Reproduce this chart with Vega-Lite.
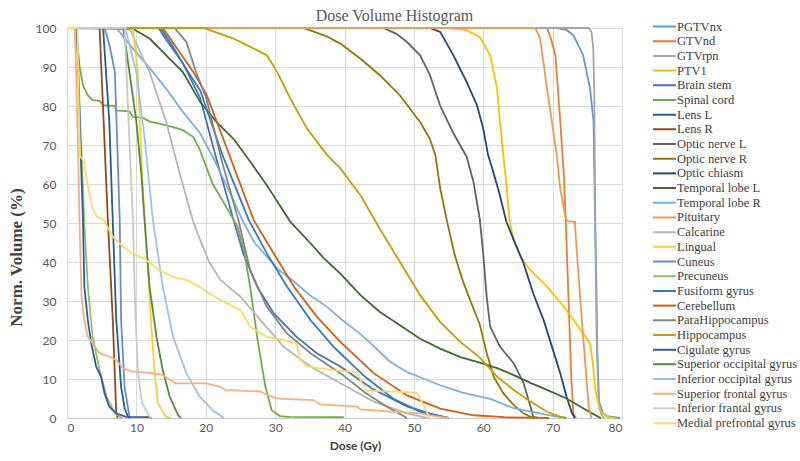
{
"$schema": "https://vega.github.io/schema/vega-lite/v6.json",
"width": 555, "height": 390,
"autosize": {"type": "none"},
"padding": {"left": 67, "top": 28, "right": 178, "bottom": 43},
"background": "white",
"title": {"text": "Dose Volume Histogram", "font": "Liberation Serif", "fontSize": 16, "fontWeight": "normal", "color": "#595959", "anchor": "middle", "dx": 50, "offset": -4},
"config": {"view": {"stroke": null}},
"data": {"values": [
{"s":"PGTVnx","d":0,"v":100},{"s":"PGTVnx","d":70.6,"v":100},{"s":"PGTVnx","d":72,"v":99.5},{"s":"PGTVnx","d":73,"v":98.1},{"s":"PGTVnx","d":74.4,"v":93},{"s":"PGTVnx","d":75.4,"v":84.4},{"s":"PGTVnx","d":75.9,"v":75.9},{"s":"PGTVnx","d":76.1,"v":52},{"s":"PGTVnx","d":76.3,"v":35},{"s":"PGTVnx","d":76.45,"v":17},{"s":"PGTVnx","d":76.7,"v":4},{"s":"PGTVnx","d":77.3,"v":1.2},{"s":"PGTVnx","d":77.8,"v":0.5},{"s":"PGTVnx","d":79.7,"v":0},
{"s":"GTVnd","d":0,"v":100},{"s":"GTVnd","d":69.2,"v":100},{"s":"GTVnd","d":69.8,"v":97},{"s":"GTVnd","d":70.4,"v":93},{"s":"GTVnd","d":71.1,"v":76},{"s":"GTVnd","d":71.6,"v":63},{"s":"GTVnd","d":71.9,"v":50.3},{"s":"GTVnd","d":72.3,"v":30},{"s":"GTVnd","d":72.7,"v":10},{"s":"GTVnd","d":73,"v":1},{"s":"GTVnd","d":73.4,"v":0},
{"s":"GTVrpn","d":0,"v":100},{"s":"GTVrpn","d":75.2,"v":100},{"s":"GTVrpn","d":75.6,"v":99},{"s":"GTVrpn","d":75.85,"v":95},{"s":"GTVrpn","d":76,"v":84},{"s":"GTVrpn","d":76.1,"v":60},{"s":"GTVrpn","d":76.2,"v":40},{"s":"GTVrpn","d":76.35,"v":20},{"s":"GTVrpn","d":76.6,"v":5},{"s":"GTVrpn","d":77,"v":1},{"s":"GTVrpn","d":77.4,"v":0},
{"s":"PTV1","d":0,"v":100},{"s":"PTV1","d":55,"v":100},{"s":"PTV1","d":57.5,"v":99.5},{"s":"PTV1","d":59.5,"v":97.7},{"s":"PTV1","d":61,"v":93},{"s":"PTV1","d":62,"v":84.4},{"s":"PTV1","d":62.4,"v":76},{"s":"PTV1","d":62.9,"v":67.4},{"s":"PTV1","d":63.4,"v":58.8},{"s":"PTV1","d":63.8,"v":50.5},{"s":"PTV1","d":64.4,"v":45.6},{"s":"PTV1","d":65.5,"v":41},{"s":"PTV1","d":66.8,"v":37.9},{"s":"PTV1","d":69.2,"v":33.7},{"s":"PTV1","d":72,"v":27.7},{"s":"PTV1","d":74.4,"v":21.7},{"s":"PTV1","d":75.4,"v":19},{"s":"PTV1","d":75.8,"v":14},{"s":"PTV1","d":76.1,"v":8},{"s":"PTV1","d":76.8,"v":2},{"s":"PTV1","d":77.8,"v":0.3},{"s":"PTV1","d":79,"v":0},
{"s":"Brain stem","d":0,"v":100},{"s":"Brain stem","d":13.2,"v":100},{"s":"Brain stem","d":14.3,"v":97},{"s":"Brain stem","d":16.7,"v":91},{"s":"Brain stem","d":19.2,"v":82},{"s":"Brain stem","d":21.6,"v":66},{"s":"Brain stem","d":24,"v":50.8},{"s":"Brain stem","d":25.4,"v":42.2},{"s":"Brain stem","d":27.4,"v":33.7},{"s":"Brain stem","d":29.8,"v":26.8},{"s":"Brain stem","d":33.1,"v":20.8},{"s":"Brain stem","d":36,"v":16.6},{"s":"Brain stem","d":39.4,"v":13.2},{"s":"Brain stem","d":44,"v":7.5},{"s":"Brain stem","d":49,"v":3},{"s":"Brain stem","d":53,"v":0.8},{"s":"Brain stem","d":55,"v":0},
{"s":"Spinal cord","d":0,"v":100},{"s":"Spinal cord","d":1.3,"v":100},{"s":"Spinal cord","d":1.5,"v":96},{"s":"Spinal cord","d":1.8,"v":90.4},{"s":"Spinal cord","d":2.3,"v":85.3},{"s":"Spinal cord","d":3,"v":82.7},{"s":"Spinal cord","d":3.7,"v":81.5},{"s":"Spinal cord","d":4.7,"v":81.3},{"s":"Spinal cord","d":5.2,"v":80.2},{"s":"Spinal cord","d":6.9,"v":80},{"s":"Spinal cord","d":7.1,"v":78.9},{"s":"Spinal cord","d":9,"v":78.6},{"s":"Spinal cord","d":9.5,"v":77.2},{"s":"Spinal cord","d":10.9,"v":77},{"s":"Spinal cord","d":11.9,"v":76},{"s":"Spinal cord","d":13.3,"v":75.5},{"s":"Spinal cord","d":15.3,"v":74.6},{"s":"Spinal cord","d":16.7,"v":73.8},{"s":"Spinal cord","d":18.2,"v":72.1},{"s":"Spinal cord","d":19.1,"v":69},{"s":"Spinal cord","d":21,"v":60},{"s":"Spinal cord","d":23,"v":54},{"s":"Spinal cord","d":24.6,"v":49},{"s":"Spinal cord","d":25.5,"v":43},{"s":"Spinal cord","d":26.4,"v":33.7},{"s":"Spinal cord","d":27.4,"v":20.8},{"s":"Spinal cord","d":28.6,"v":8},{"s":"Spinal cord","d":29.5,"v":2},{"s":"Spinal cord","d":30.7,"v":0.5},{"s":"Spinal cord","d":32,"v":0.3},{"s":"Spinal cord","d":39.9,"v":0.2},
{"s":"Lens L","d":0,"v":100},{"s":"Lens L","d":5.2,"v":100},{"s":"Lens L","d":6.1,"v":75.9},{"s":"Lens L","d":6.6,"v":50.3},{"s":"Lens L","d":7.1,"v":25.1},{"s":"Lens L","d":7.8,"v":8},{"s":"Lens L","d":8.3,"v":2.5},{"s":"Lens L","d":8.8,"v":0.3},{"s":"Lens L","d":9,"v":0},
{"s":"Lens R","d":0,"v":100},{"s":"Lens R","d":4.7,"v":100},{"s":"Lens R","d":5.9,"v":50.3},{"s":"Lens R","d":6.6,"v":25.1},{"s":"Lens R","d":7.1,"v":1.3},{"s":"Lens R","d":7.3,"v":0},
{"s":"Optic nerve L","d":0,"v":100},{"s":"Optic nerve L","d":45.6,"v":100},{"s":"Optic nerve L","d":47.5,"v":98.5},{"s":"Optic nerve L","d":49,"v":96.4},{"s":"Optic nerve L","d":50.9,"v":93},{"s":"Optic nerve L","d":52.3,"v":88},{"s":"Optic nerve L","d":53.8,"v":80},{"s":"Optic nerve L","d":55.7,"v":73},{"s":"Optic nerve L","d":57.6,"v":67},{"s":"Optic nerve L","d":58.6,"v":60.5},{"s":"Optic nerve L","d":59.5,"v":51},{"s":"Optic nerve L","d":60,"v":42},{"s":"Optic nerve L","d":60.5,"v":31},{"s":"Optic nerve L","d":61,"v":23.4},{"s":"Optic nerve L","d":62.4,"v":18.3},{"s":"Optic nerve L","d":64.4,"v":14},{"s":"Optic nerve L","d":65.8,"v":9},{"s":"Optic nerve L","d":66.8,"v":3},{"s":"Optic nerve L","d":67.2,"v":0.3},{"s":"Optic nerve L","d":68,"v":0},
{"s":"Optic nerve R","d":0,"v":100},{"s":"Optic nerve R","d":34.1,"v":100},{"s":"Optic nerve R","d":37.5,"v":97.8},{"s":"Optic nerve R","d":39.4,"v":96},{"s":"Optic nerve R","d":42.3,"v":92.1},{"s":"Optic nerve R","d":45.1,"v":87.9},{"s":"Optic nerve R","d":48,"v":82.7},{"s":"Optic nerve R","d":50.9,"v":75.9},{"s":"Optic nerve R","d":52.3,"v":71.6},{"s":"Optic nerve R","d":53.1,"v":67.4},{"s":"Optic nerve R","d":53.8,"v":58.8},{"s":"Optic nerve R","d":54.8,"v":50.3},{"s":"Optic nerve R","d":55.9,"v":41.7},{"s":"Optic nerve R","d":57.1,"v":34.9},{"s":"Optic nerve R","d":58.6,"v":28},{"s":"Optic nerve R","d":59.5,"v":24},{"s":"Optic nerve R","d":60.5,"v":16.6},{"s":"Optic nerve R","d":61.5,"v":10.6},{"s":"Optic nerve R","d":62.9,"v":6.3},{"s":"Optic nerve R","d":64.4,"v":3.3},{"s":"Optic nerve R","d":65.8,"v":1.2},{"s":"Optic nerve R","d":66.8,"v":0.3},{"s":"Optic nerve R","d":67.5,"v":0},
{"s":"Optic chiasm","d":0,"v":100},{"s":"Optic chiasm","d":52.3,"v":100},{"s":"Optic chiasm","d":53.8,"v":99},{"s":"Optic chiasm","d":55.7,"v":93},{"s":"Optic chiasm","d":57.6,"v":86.2},{"s":"Optic chiasm","d":59.1,"v":80.2},{"s":"Optic chiasm","d":60,"v":74.2},{"s":"Optic chiasm","d":60.7,"v":67.4},{"s":"Optic chiasm","d":61.3,"v":64},{"s":"Optic chiasm","d":62.4,"v":57.1},{"s":"Optic chiasm","d":63.3,"v":50.5},{"s":"Optic chiasm","d":64.4,"v":45.6},{"s":"Optic chiasm","d":65.8,"v":39.7},{"s":"Optic chiasm","d":67.2,"v":32},{"s":"Optic chiasm","d":68.7,"v":25.1},{"s":"Optic chiasm","d":69.9,"v":18.3},{"s":"Optic chiasm","d":71.1,"v":11.5},{"s":"Optic chiasm","d":72,"v":5.5},{"s":"Optic chiasm","d":72.8,"v":1.2},{"s":"Optic chiasm","d":73.2,"v":0},
{"s":"Temporal lobe L","d":0,"v":100},{"s":"Temporal lobe L","d":9.5,"v":99.8},{"s":"Temporal lobe L","d":11.9,"v":97.3},{"s":"Temporal lobe L","d":14.3,"v":93},{"s":"Temporal lobe L","d":16.7,"v":88.7},{"s":"Temporal lobe L","d":19.2,"v":81},{"s":"Temporal lobe L","d":21.5,"v":76},{"s":"Temporal lobe L","d":24,"v":71.6},{"s":"Temporal lobe L","d":26.5,"v":65.5},{"s":"Temporal lobe L","d":28.8,"v":59.7},{"s":"Temporal lobe L","d":30.5,"v":55},{"s":"Temporal lobe L","d":32.2,"v":50.3},{"s":"Temporal lobe L","d":35,"v":45},{"s":"Temporal lobe L","d":37,"v":41},{"s":"Temporal lobe L","d":39.4,"v":37},{"s":"Temporal lobe L","d":42.3,"v":31.5},{"s":"Temporal lobe L","d":45.1,"v":27.2},{"s":"Temporal lobe L","d":48,"v":23.8},{"s":"Temporal lobe L","d":50.9,"v":20.3},{"s":"Temporal lobe L","d":53.8,"v":17.8},{"s":"Temporal lobe L","d":56.7,"v":15.6},{"s":"Temporal lobe L","d":59.5,"v":14.2},{"s":"Temporal lobe L","d":62,"v":12.8},{"s":"Temporal lobe L","d":64.4,"v":11},{"s":"Temporal lobe L","d":66.8,"v":9},{"s":"Temporal lobe L","d":69.2,"v":7.2},{"s":"Temporal lobe L","d":72,"v":5},{"s":"Temporal lobe L","d":74.9,"v":2},{"s":"Temporal lobe L","d":76.6,"v":0.3},{"s":"Temporal lobe L","d":77,"v":0},
{"s":"Temporal lobe R","d":0,"v":100},{"s":"Temporal lobe R","d":7.1,"v":100},{"s":"Temporal lobe R","d":9.5,"v":94.7},{"s":"Temporal lobe R","d":12.4,"v":88.7},{"s":"Temporal lobe R","d":14.3,"v":84.4},{"s":"Temporal lobe R","d":16.7,"v":78.5},{"s":"Temporal lobe R","d":19.1,"v":73.3},{"s":"Temporal lobe R","d":21,"v":67},{"s":"Temporal lobe R","d":23.3,"v":58.5},{"s":"Temporal lobe R","d":25.4,"v":50.3},{"s":"Temporal lobe R","d":27,"v":45},{"s":"Temporal lobe R","d":28.8,"v":41.4},{"s":"Temporal lobe R","d":30.5,"v":38},{"s":"Temporal lobe R","d":32.7,"v":35},{"s":"Temporal lobe R","d":35,"v":31.5},{"s":"Temporal lobe R","d":37.5,"v":28.5},{"s":"Temporal lobe R","d":39.4,"v":25.5},{"s":"Temporal lobe R","d":42.3,"v":21.5},{"s":"Temporal lobe R","d":44.2,"v":18.5},{"s":"Temporal lobe R","d":46.5,"v":14.5},{"s":"Temporal lobe R","d":49,"v":11.8},{"s":"Temporal lobe R","d":51.5,"v":10},{"s":"Temporal lobe R","d":53.8,"v":8.4},{"s":"Temporal lobe R","d":57,"v":6.5},{"s":"Temporal lobe R","d":59.5,"v":5.5},{"s":"Temporal lobe R","d":61,"v":4.9},{"s":"Temporal lobe R","d":64.4,"v":2.5},{"s":"Temporal lobe R","d":69.2,"v":0.8},{"s":"Temporal lobe R","d":72,"v":0},
{"s":"Pituitary","d":0,"v":100},{"s":"Pituitary","d":67.5,"v":100},{"s":"Pituitary","d":68.2,"v":97.3},{"s":"Pituitary","d":69.2,"v":84.4},{"s":"Pituitary","d":69.9,"v":75.9},{"s":"Pituitary","d":70.6,"v":67.4},{"s":"Pituitary","d":71.1,"v":58.8},{"s":"Pituitary","d":71.8,"v":52},{"s":"Pituitary","d":72.1,"v":50.5},{"s":"Pituitary","d":73.2,"v":50.3},{"s":"Pituitary","d":73.5,"v":42.2},{"s":"Pituitary","d":74.4,"v":20.8},{"s":"Pituitary","d":75.2,"v":2.9},{"s":"Pituitary","d":75.6,"v":0},
{"s":"Calcarine","d":0,"v":100},{"s":"Calcarine","d":9,"v":100},{"s":"Calcarine","d":10.5,"v":94},{"s":"Calcarine","d":11.9,"v":88.7},{"s":"Calcarine","d":14.3,"v":75.9},{"s":"Calcarine","d":16.2,"v":63},{"s":"Calcarine","d":18.2,"v":50.3},{"s":"Calcarine","d":19.2,"v":45.6},{"s":"Calcarine","d":20.5,"v":40},{"s":"Calcarine","d":22.1,"v":35.4},{"s":"Calcarine","d":25,"v":31.1},{"s":"Calcarine","d":27.9,"v":25.1},{"s":"Calcarine","d":31.2,"v":18.3},{"s":"Calcarine","d":35.1,"v":13.2},{"s":"Calcarine","d":39.4,"v":8.9},{"s":"Calcarine","d":44.2,"v":4.2},{"s":"Calcarine","d":49,"v":1.2},{"s":"Calcarine","d":52,"v":0},
{"s":"Lingual","d":0,"v":100},{"s":"Lingual","d":9.5,"v":100},{"s":"Lingual","d":10.2,"v":88.7},{"s":"Lingual","d":10.7,"v":67.4},{"s":"Lingual","d":11.2,"v":50.3},{"s":"Lingual","d":11.6,"v":40},{"s":"Lingual","d":12.1,"v":25.1},{"s":"Lingual","d":12.6,"v":12.3},{"s":"Lingual","d":13.1,"v":3.8},{"s":"Lingual","d":14.3,"v":0.3},{"s":"Lingual","d":15,"v":0},
{"s":"Cuneus","d":0,"v":100},{"s":"Cuneus","d":5.4,"v":100},{"s":"Cuneus","d":6.2,"v":95},{"s":"Cuneus","d":6.9,"v":88.7},{"s":"Cuneus","d":7.3,"v":67.4},{"s":"Cuneus","d":7.6,"v":50.3},{"s":"Cuneus","d":7.8,"v":25.1},{"s":"Cuneus","d":8.3,"v":8},{"s":"Cuneus","d":9,"v":0.3},{"s":"Cuneus","d":9.2,"v":0},
{"s":"Precuneus","d":0,"v":100},{"s":"Precuneus","d":1.4,"v":100},{"s":"Precuneus","d":1.7,"v":85},{"s":"Precuneus","d":2.1,"v":68},{"s":"Precuneus","d":2.5,"v":50},{"s":"Precuneus","d":3,"v":33.7},{"s":"Precuneus","d":3.7,"v":20.8},{"s":"Precuneus","d":4.7,"v":12.3},{"s":"Precuneus","d":5.7,"v":5.5},{"s":"Precuneus","d":6.9,"v":1.2},{"s":"Precuneus","d":7.6,"v":0.3},{"s":"Precuneus","d":8,"v":0},
{"s":"Fusiform gyrus","d":0,"v":100},{"s":"Fusiform gyrus","d":13.5,"v":100},{"s":"Fusiform gyrus","d":15,"v":96},{"s":"Fusiform gyrus","d":17,"v":90},{"s":"Fusiform gyrus","d":19.2,"v":84},{"s":"Fusiform gyrus","d":22.5,"v":67},{"s":"Fusiform gyrus","d":26.2,"v":50.8},{"s":"Fusiform gyrus","d":28.8,"v":42.2},{"s":"Fusiform gyrus","d":31.7,"v":33.7},{"s":"Fusiform gyrus","d":35.1,"v":25.1},{"s":"Fusiform gyrus","d":38.4,"v":18.3},{"s":"Fusiform gyrus","d":39.4,"v":16.6},{"s":"Fusiform gyrus","d":43,"v":10.5},{"s":"Fusiform gyrus","d":47,"v":5},{"s":"Fusiform gyrus","d":51,"v":1.5},{"s":"Fusiform gyrus","d":55,"v":0},
{"s":"Cerebellum","d":0,"v":100},{"s":"Cerebellum","d":13.8,"v":100},{"s":"Cerebellum","d":15,"v":97},{"s":"Cerebellum","d":18.2,"v":88.7},{"s":"Cerebellum","d":20.1,"v":83},{"s":"Cerebellum","d":23.5,"v":67},{"s":"Cerebellum","d":26.9,"v":50.8},{"s":"Cerebellum","d":29.8,"v":42.2},{"s":"Cerebellum","d":32.7,"v":33.7},{"s":"Cerebellum","d":36,"v":26},{"s":"Cerebellum","d":39.4,"v":19.5},{"s":"Cerebellum","d":44.2,"v":11.5},{"s":"Cerebellum","d":49,"v":5.8},{"s":"Cerebellum","d":53.8,"v":2.4},{"s":"Cerebellum","d":58.6,"v":0.7},{"s":"Cerebellum","d":63,"v":0.2},{"s":"Cerebellum","d":69.5,"v":0},
{"s":"ParaHippocampus","d":0,"v":100},{"s":"ParaHippocampus","d":15.5,"v":100},{"s":"ParaHippocampus","d":17.2,"v":96.4},{"s":"ParaHippocampus","d":18.6,"v":88.7},{"s":"ParaHippocampus","d":20.1,"v":81.9},{"s":"ParaHippocampus","d":22.3,"v":66},{"s":"ParaHippocampus","d":24.7,"v":50.8},{"s":"ParaHippocampus","d":26.4,"v":37.9},{"s":"ParaHippocampus","d":28.8,"v":28.5},{"s":"ParaHippocampus","d":31.7,"v":21.7},{"s":"ParaHippocampus","d":35.1,"v":16.6},{"s":"ParaHippocampus","d":39.4,"v":11.5},{"s":"ParaHippocampus","d":43,"v":6.5},{"s":"ParaHippocampus","d":46,"v":3},{"s":"ParaHippocampus","d":48.5,"v":0.5},{"s":"ParaHippocampus","d":49,"v":0},
{"s":"Hippocampus","d":0,"v":100},{"s":"Hippocampus","d":19.7,"v":100},{"s":"Hippocampus","d":24,"v":97.3},{"s":"Hippocampus","d":28.8,"v":93},{"s":"Hippocampus","d":30.3,"v":88.7},{"s":"Hippocampus","d":32.2,"v":81.9},{"s":"Hippocampus","d":34.6,"v":74.2},{"s":"Hippocampus","d":37.5,"v":67.4},{"s":"Hippocampus","d":39.4,"v":64},{"s":"Hippocampus","d":42.3,"v":57.1},{"s":"Hippocampus","d":45.1,"v":48.5},{"s":"Hippocampus","d":48,"v":40},{"s":"Hippocampus","d":50.9,"v":31.5},{"s":"Hippocampus","d":53.8,"v":24.6},{"s":"Hippocampus","d":56.7,"v":19.5},{"s":"Hippocampus","d":59.5,"v":15.5},{"s":"Hippocampus","d":62,"v":10.6},{"s":"Hippocampus","d":64.4,"v":7.2},{"s":"Hippocampus","d":66.8,"v":4.2},{"s":"Hippocampus","d":69.2,"v":1.6},{"s":"Hippocampus","d":71.1,"v":0.3},{"s":"Hippocampus","d":72,"v":0},
{"s":"Cigulate gyrus","d":0,"v":100},{"s":"Cigulate gyrus","d":1.4,"v":100},{"s":"Cigulate gyrus","d":1.6,"v":90},{"s":"Cigulate gyrus","d":1.9,"v":72},{"s":"Cigulate gyrus","d":2.3,"v":50.8},{"s":"Cigulate gyrus","d":2.5,"v":33.7},{"s":"Cigulate gyrus","d":3,"v":25.1},{"s":"Cigulate gyrus","d":3.5,"v":19.1},{"s":"Cigulate gyrus","d":4.2,"v":13.2},{"s":"Cigulate gyrus","d":4.9,"v":10.6},{"s":"Cigulate gyrus","d":5.4,"v":6.3},{"s":"Cigulate gyrus","d":6.1,"v":2.9},{"s":"Cigulate gyrus","d":7.1,"v":1.2},{"s":"Cigulate gyrus","d":8.5,"v":0.3},{"s":"Cigulate gyrus","d":11.9,"v":0.2},{"s":"Cigulate gyrus","d":12.2,"v":0},
{"s":"Superior occipital gyrus","d":0,"v":100},{"s":"Superior occipital gyrus","d":8.1,"v":100},{"s":"Superior occipital gyrus","d":9,"v":88.7},{"s":"Superior occipital gyrus","d":10,"v":75.9},{"s":"Superior occipital gyrus","d":10.7,"v":63},{"s":"Superior occipital gyrus","d":11.2,"v":50.3},{"s":"Superior occipital gyrus","d":11.9,"v":33.7},{"s":"Superior occipital gyrus","d":12.9,"v":20.8},{"s":"Superior occipital gyrus","d":13.8,"v":12.3},{"s":"Superior occipital gyrus","d":14.8,"v":5.5},{"s":"Superior occipital gyrus","d":16,"v":0.8},{"s":"Superior occipital gyrus","d":16.4,"v":0},
{"s":"Inferior occipital gyrus","d":0,"v":100},{"s":"Inferior occipital gyrus","d":8.4,"v":100},{"s":"Inferior occipital gyrus","d":10,"v":88.7},{"s":"Inferior occipital gyrus","d":11.2,"v":71.6},{"s":"Inferior occipital gyrus","d":12.4,"v":50.5},{"s":"Inferior occipital gyrus","d":13.8,"v":33.7},{"s":"Inferior occipital gyrus","d":15.3,"v":20.8},{"s":"Inferior occipital gyrus","d":17.2,"v":11.5},{"s":"Inferior occipital gyrus","d":19.1,"v":5.5},{"s":"Inferior occipital gyrus","d":21,"v":2},{"s":"Inferior occipital gyrus","d":22.6,"v":0},
{"s":"Superior frontal gyrus","d":0,"v":100},{"s":"Superior frontal gyrus","d":1.1,"v":100},{"s":"Superior frontal gyrus","d":1.3,"v":90},{"s":"Superior frontal gyrus","d":1.5,"v":75},{"s":"Superior frontal gyrus","d":1.7,"v":60},{"s":"Superior frontal gyrus","d":1.8,"v":50.8},{"s":"Superior frontal gyrus","d":2.1,"v":31},{"s":"Superior frontal gyrus","d":2.5,"v":25},{"s":"Superior frontal gyrus","d":3,"v":20.8},{"s":"Superior frontal gyrus","d":3.7,"v":19.1},{"s":"Superior frontal gyrus","d":4.7,"v":16.6},{"s":"Superior frontal gyrus","d":6.1,"v":15.7},{"s":"Superior frontal gyrus","d":7.1,"v":14.9},{"s":"Superior frontal gyrus","d":8.1,"v":12.7},{"s":"Superior frontal gyrus","d":9.5,"v":11.9},{"s":"Superior frontal gyrus","d":12.4,"v":11.5},{"s":"Superior frontal gyrus","d":13.8,"v":11},{"s":"Superior frontal gyrus","d":15.7,"v":8.9},{"s":"Superior frontal gyrus","d":20.1,"v":8.9},{"s":"Superior frontal gyrus","d":22.1,"v":8},{"s":"Superior frontal gyrus","d":22.8,"v":7.2},{"s":"Superior frontal gyrus","d":27.9,"v":6.8},{"s":"Superior frontal gyrus","d":28.8,"v":5.9},{"s":"Superior frontal gyrus","d":30.3,"v":5},{"s":"Superior frontal gyrus","d":35.5,"v":4.6},{"s":"Superior frontal gyrus","d":36.5,"v":3.5},{"s":"Superior frontal gyrus","d":41.8,"v":2.9},{"s":"Superior frontal gyrus","d":42.3,"v":2.2},{"s":"Superior frontal gyrus","d":47,"v":1.6},{"s":"Superior frontal gyrus","d":50.9,"v":1.2},{"s":"Superior frontal gyrus","d":53,"v":0.5},{"s":"Superior frontal gyrus","d":55,"v":0},
{"s":"Inferior frantal gyrus","d":0,"v":100},{"s":"Inferior frantal gyrus","d":8.3,"v":100},{"s":"Inferior frantal gyrus","d":8.9,"v":75},{"s":"Inferior frantal gyrus","d":9.5,"v":50.8},{"s":"Inferior frantal gyrus","d":9.8,"v":30},{"s":"Inferior frantal gyrus","d":10.2,"v":12.3},{"s":"Inferior frantal gyrus","d":10.8,"v":4},{"s":"Inferior frantal gyrus","d":11.9,"v":0.3},{"s":"Inferior frantal gyrus","d":12.2,"v":0},
{"s":"Medial prefrontal gyrus","d":0,"v":100},{"s":"Medial prefrontal gyrus","d":1.5,"v":100},{"s":"Medial prefrontal gyrus","d":1.7,"v":80},{"s":"Medial prefrontal gyrus","d":1.9,"v":67},{"s":"Medial prefrontal gyrus","d":2.4,"v":66},{"s":"Medial prefrontal gyrus","d":3.1,"v":58.5},{"s":"Medial prefrontal gyrus","d":3.7,"v":53.7},{"s":"Medial prefrontal gyrus","d":4.3,"v":51.6},{"s":"Medial prefrontal gyrus","d":5.2,"v":51},{"s":"Medial prefrontal gyrus","d":6.6,"v":46.5},{"s":"Medial prefrontal gyrus","d":8.1,"v":43.9},{"s":"Medial prefrontal gyrus","d":9.5,"v":42.2},{"s":"Medial prefrontal gyrus","d":11.4,"v":40.5},{"s":"Medial prefrontal gyrus","d":13.3,"v":37.9},{"s":"Medial prefrontal gyrus","d":15.3,"v":36.2},{"s":"Medial prefrontal gyrus","d":17.2,"v":35.4},{"s":"Medial prefrontal gyrus","d":19.1,"v":33.7},{"s":"Medial prefrontal gyrus","d":20.1,"v":32.4},{"s":"Medial prefrontal gyrus","d":22.1,"v":30.3},{"s":"Medial prefrontal gyrus","d":24,"v":28.5},{"s":"Medial prefrontal gyrus","d":25,"v":27.7},{"s":"Medial prefrontal gyrus","d":26.4,"v":23.4},{"s":"Medial prefrontal gyrus","d":28.8,"v":20.8},{"s":"Medial prefrontal gyrus","d":31.2,"v":20},{"s":"Medial prefrontal gyrus","d":33.1,"v":19.1},{"s":"Medial prefrontal gyrus","d":33.6,"v":14.9},{"s":"Medial prefrontal gyrus","d":34.6,"v":13.2},{"s":"Medial prefrontal gyrus","d":38.4,"v":12.3},{"s":"Medial prefrontal gyrus","d":41.8,"v":11.8},{"s":"Medial prefrontal gyrus","d":42.5,"v":9},{"s":"Medial prefrontal gyrus","d":43.2,"v":7},{"s":"Medial prefrontal gyrus","d":50.4,"v":6.5},{"s":"Medial prefrontal gyrus","d":51.5,"v":3},{"s":"Medial prefrontal gyrus","d":52.3,"v":0}
]},
"mark": {"type": "line", "strokeWidth": 1.8},
"encoding": {
"x": {"field": "d", "type": "quantitative", "scale": {"domain": [0, 80], "nice": false},
 "axis": {"values": [0,10,20,30,40,50,60,70,80], "grid": true, "gridColor": "#D9D9D9", "domain": true, "domainColor": "#C8C8C8", "ticks": false, "labelFont": "Lato", "labelFontSize": 12, "labelColor": "#595959", "labelPadding": 4, "title": "Dose (Gy)", "titleFont": "Lato", "titleFontWeight": "bold", "titleFontSize": 12, "titleColor": "#404040", "titleX": 288, "titleY": 27, "titleBaseline": "middle", "titleAlign": "center"}},
"y": {"field": "v", "type": "quantitative", "scale": {"domain": [0, 100], "nice": false},
 "axis": {"values": [0,10,20,30,40,50,60,70,80,90,100], "grid": true, "gridColor": "#D9D9D9", "domain": false, "ticks": false, "labelFont": "Lato", "labelFontSize": 12, "labelColor": "#595959", "labelPadding": 11, "title": "Norm. Volume (%)", "titleFont": "Liberation Serif", "titleFontWeight": "bold", "titleFontSize": 17, "titleColor": "#404040", "titleX": -51, "titleY": 229, "titleBaseline": "middle", "titleAlign": "center", "titleAngle": -90}},
"color": {"field": "s", "type": "nominal",
 "scale": {"domain": ["PGTVnx","GTVnd","GTVrpn","PTV1","Brain stem","Spinal cord","Lens L","Lens R","Optic nerve L","Optic nerve R","Optic chiasm","Temporal lobe L","Temporal lobe R","Pituitary","Calcarine","Lingual","Cuneus","Precuneus","Fusiform gyrus","Cerebellum","ParaHippocampus","Hippocampus","Cigulate gyrus","Superior occipital gyrus","Inferior occipital gyrus","Superior frontal gyrus","Inferior frantal gyrus","Medial prefrontal gyrus"],
  "range": ["#5B9BD5","#ED7D31","#A5A5A5","#FFC000","#4472C4","#70AD47","#255E91","#9E480E","#636363","#997300","#264478","#43682B","#7CAFDD","#F1975A","#B7B7B7","#FFCD33","#698ED0","#8CC168","#327DC2","#D26012","#848484","#CC9A00","#335AA1","#5A8A39","#9DC3E6","#F4B183","#C9C9C9","#FFD966"]},
 "legend": {"title": null, "orient": "none", "legendX": 585, "legendY": -8, "symbolType": "stroke", "symbolSize": 529, "symbolStrokeWidth": 2, "clipHeight": 13, "rowPadding": 1.69, "labelFont": "Liberation Serif", "labelFontSize": 12.5, "labelColor": "#404040", "labelOffset": 0, "padding": 0, "labelLimit": 200}}
}
}
